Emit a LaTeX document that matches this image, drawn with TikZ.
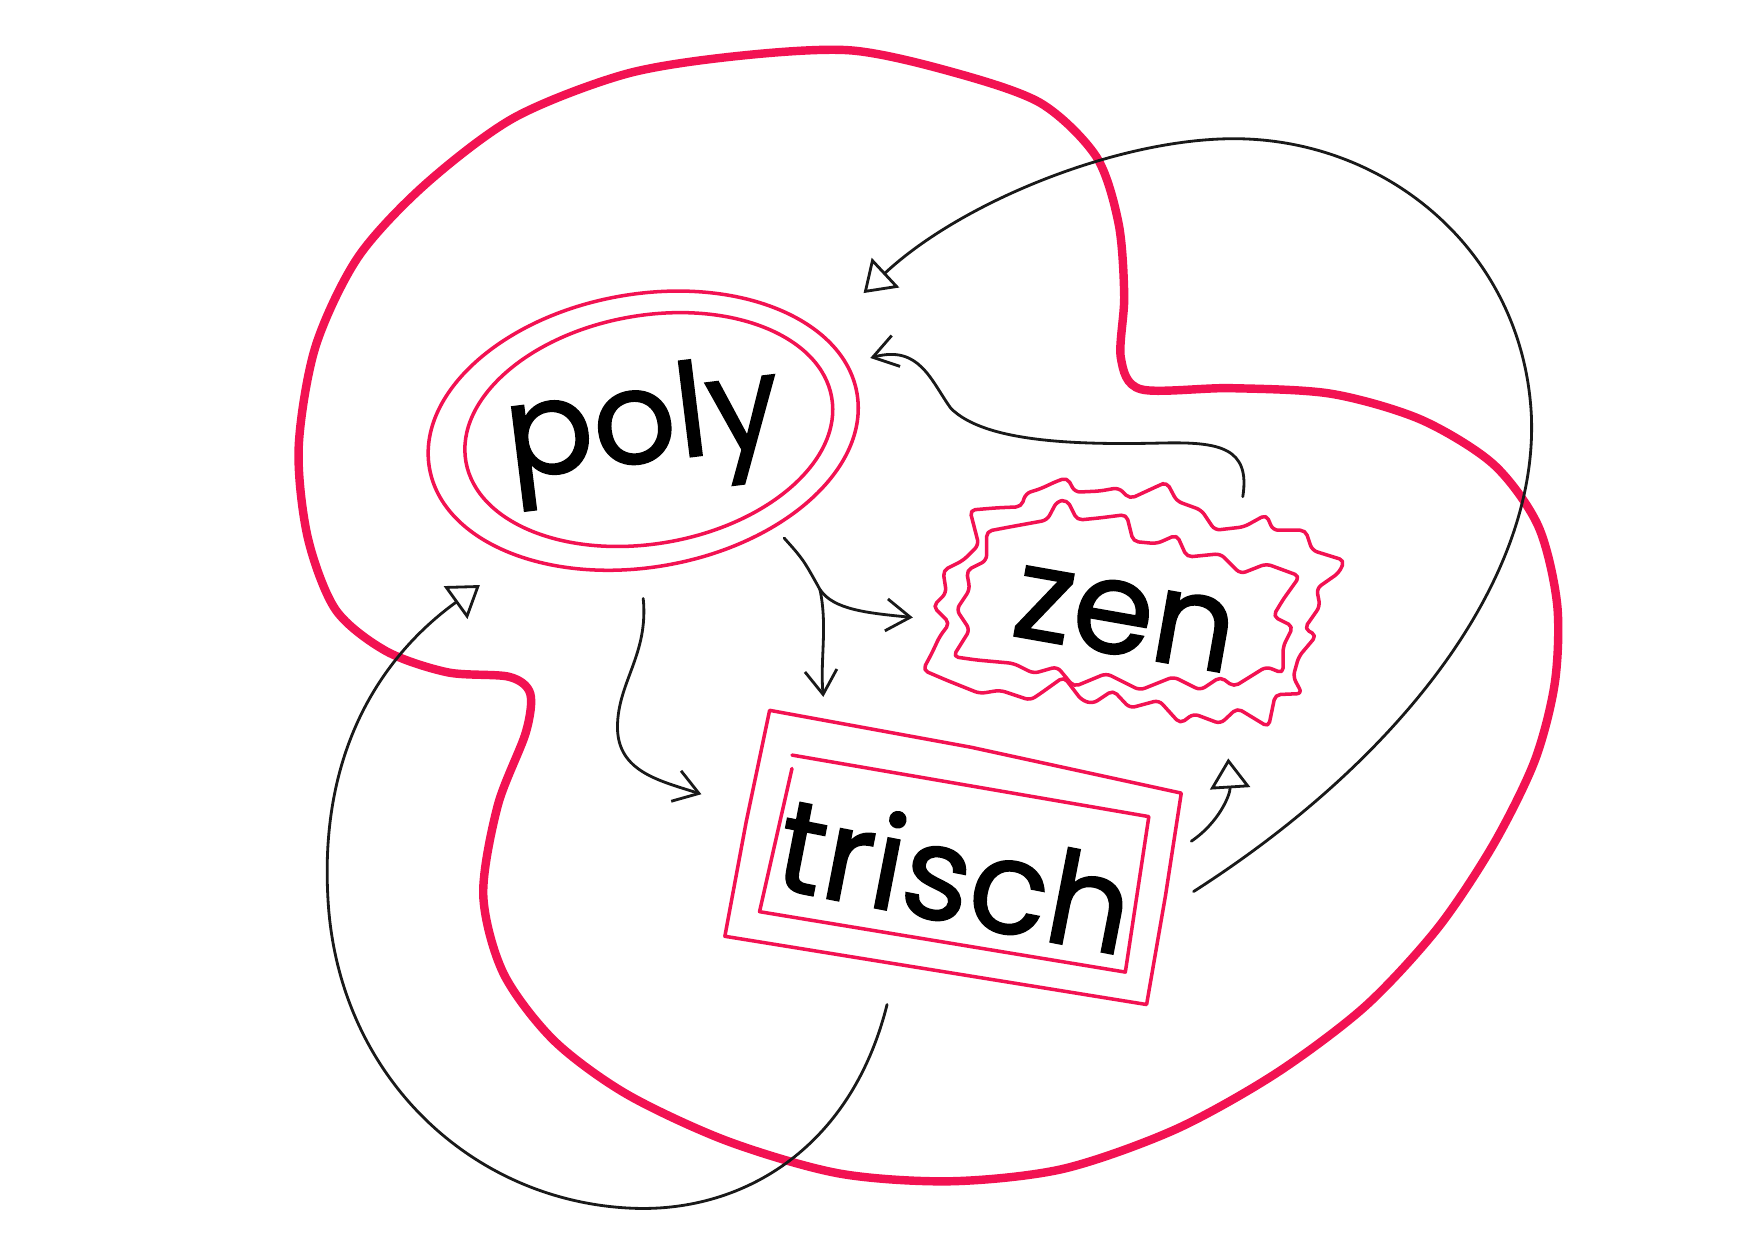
\documentclass[tikz,border=0pt]{standalone}
\usepackage{fontspec}
\usepackage{tikz}
\usetikzlibrary{arrows.meta}
\newfontfamily\wordfont{Poppins}[FakeBold=1.2]
\definecolor{pen}{RGB}{242,18,82}
\tikzset{
  word/.style={font=\wordfont\fontsize{37}{44}\selectfont, inner sep=0pt, anchor=base},
  frame/.style={pen, line width=1pt, line join=round, line cap=round},
  blob/.style={pen, line width=2.4pt},
  link/.style={black!90, line width=0.8pt, line cap=round},
  barb/.style={link, -{Straight Barb[length=2.4mm, width=3.2mm]}},
  openhead/.style={link, -{Triangle[open, length=3mm, width=4mm]}}
}
\begin{document}
\begin{tikzpicture}[x=0.011186cm, y=-0.011186cm]
\useasboundingbox (0,0) rectangle (1568,1109);
%\draw[help lines, step=100] (0,0) grid (1568,1109);
% the big red loop
\draw[blob] plot[smooth cycle] coordinates {
  (560,66) (660,50) (760,45) (850,64) (930,92) (980,140) (1000,200) (1005,265)
  (1002,320) (1020,348) (1100,347) (1190,352) (1270,375) (1335,415) (1375,470)
  (1392,540) (1390,610) (1372,680) (1335,755) (1285,830) (1220,900) (1140,960)
  (1050,1010) (950,1045) (850,1056) (750,1049) (650,1020) (560,978) (495,930)
  (450,870) (432,800) (445,720) (470,655) (474,620) (455,605) (400,601) (345,582)
  (300,545) (275,480) (267,400) (282,310) (320,230) (380,165) (460,105)};
% words
\node[word, rotate=7] (poly) at (579,413) {poly};
\node[word, rotate=-10] (zen) at (1000,585) {zen};
\node[word, rotate=-11] (trisch) at (846,824) {trisch};
% frame round poly
\draw[frame, rotate around={10:(575,385)}] (575,385) ellipse [x radius=194, y radius=122];
\draw[frame, rotate around={10:(580,384)}] (580,384) ellipse [x radius=166, y radius=102];
% frame round zen
\draw[frame, rounded corners=1.5pt] (867,456) -- (891,454) -- (913,453) -- (917,441) -- (930,437)
  -- (945,430) -- (954,427) -- (961,440) -- (983,439) -- (1000,436) -- (1010,446) -- (1036,434)
  -- (1043,431) -- (1052,448) -- (1074,456) -- (1086,474) -- (1112,471) -- (1132,460) -- (1138,474)
  -- (1167,474) -- (1173,492) -- (1202,501) -- (1197,512) -- (1177,526) -- (1180,542) -- (1166,562)
  -- (1177,568) -- (1161,587) -- (1156,605) -- (1164,620) -- (1140,621) -- (1134,650) -- (1106,633)
  -- (1091,647) -- (1067,638) -- (1055,647) -- (1036,626) -- (1010,633) -- (995,617) -- (977,629)
  -- (967,626) -- (951,605) -- (930,620) -- (921,626) -- (894,617) -- (876,620) -- (846,608)
  -- (825,599) -- (833,584) -- (840,569) -- (849,557) -- (834,542) -- (846,530) -- (843,510)
  -- (861,501) -- (875,487) -- cycle;
\draw[frame, rounded corners=1.5pt] (882,475) -- (903,471) -- (936,465) -- (945,448) -- (954,447)
  -- (963,465) -- (983,463) -- (1007,460) -- (1013,484) -- (1034,486) -- (1052,478) -- (1061,498)
  -- (1091,495) -- (1109,513) -- (1132,504) -- (1162,515) -- (1147,536) -- (1138,551) -- (1156,560)
  -- (1147,578) -- (1147,602) -- (1132,596) -- (1103,614) -- (1091,605) -- (1073,617) -- (1049,605)
  -- (1019,617) -- (989,602) -- (960,614) -- (945,596) -- (924,602) -- (906,593) -- (873,590)
  -- (852,587) -- (867,563) -- (855,545) -- (867,527) -- (864,510) -- (882,501) -- cycle;
% frame round trisch
\draw[frame] (688,635) -- (868,668) -- (1056,709) -- (1042,800) -- (1025,898) -- (648,837)
  -- (667,735) -- cycle;
\draw[frame] (708,675) -- (1027,730) -- (1006,869) -- (679,815) -- (708,687);
% ends of the arrows
\coordinate (polySE) at (701,481);
\coordinate (fork) at (733,527);
\coordinate (zenW) at (816,552);
\coordinate (trischN) at (736,623);
\coordinate (polyS) at (575,535);
\coordinate (trischW) at (627,710);
\coordinate (zenN) at (1111,444);
\coordinate (polyE) at (778,320);
\coordinate (trischE) at (1065,752);
\coordinate (zenS) at (1098,678);
\coordinate (trischR) at (1067,797);
\coordinate (polyNE) at (772,262);
\coordinate (trischB) at (793,898);
\coordinate (polySW) at (429,523);
% arrows
\draw[link] (polySE) .. controls (718,500) .. (fork);
\draw[barb] (fork) .. controls (745,545) and (775,548) .. (zenW);
\draw[barb] (fork) .. controls (740,560) and (733,590) .. (trischN);
\draw[barb] (polyS) .. controls (580,585) and (552,610) .. (552,650) .. controls (552,690) and (590,698) .. (trischW);
\draw[barb] (zenN) .. controls (1118,400) and (1090,395) .. (1040,396) .. controls (960,398) and (880,395) .. (850,365)
  .. controls (832,340) and (822,308) .. (polyE);
\draw[openhead] (trischE) .. controls (1090,735) and (1100,710) .. (zenS);
\draw[openhead] (trischR) .. controls (1250,680) and (1375,520) .. (1369,372) .. controls (1362,225) and (1240,124) .. (1103,124)
  .. controls (1000,124) and (860,180) .. (polyNE);
\draw[openhead] (trischB) .. controls (760,1030) and (660,1085) .. (563,1080) .. controls (420,1073) and (300,960) .. (293,800)
  .. controls (286,660) and (350,580) .. (polySW);
\end{tikzpicture}
\end{document}
